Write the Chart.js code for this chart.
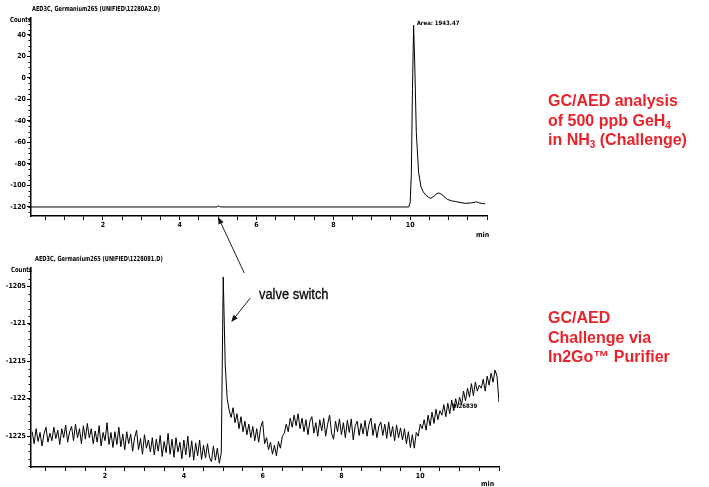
<!DOCTYPE html>
<html>
<head>
<meta charset="utf-8">
<script src="https://cdn.jsdelivr.net/npm/chart.js@4"></script>
<style>
body{margin:0;width:709px;height:487px;background:#fff;position:relative;overflow:hidden;font-family:'Liberation Sans',Arial,sans-serif}
.box{position:absolute;left:0}
.lbl{position:absolute;font-family:'DejaVu Sans Condensed','DejaVu Sans',sans-serif;font-weight:bold;font-size:7px;white-space:nowrap;color:#000;line-height:1;transform-origin:left top}
.red{position:absolute;left:548px;color:#e8232b;font-weight:bold;font-size:16px;line-height:19.5px;white-space:nowrap}
.red sub{font-size:10px;vertical-align:-3px;line-height:0}
#valve{position:absolute;left:259px;top:285px;font-size:15px;white-space:nowrap;transform:scaleX(0.86);transform-origin:left top;color:#000;-webkit-text-stroke:0.3px #000}
#overlay{position:absolute;left:0;top:0;pointer-events:none}
</style>
</head>
<body>
<div class="box" style="top:0;width:500px;height:245px"><canvas id="topChart"></canvas></div>
<div class="box" style="top:250px;width:510px;height:237px"><canvas id="botChart"></canvas></div>
<canvas id="overlay" width="709" height="487"></canvas>

<div class="lbl" style="left:32px;top:6px;transform:scaleX(0.8)">AED3C, Germanium265 (UNIFIED\12280A2.D)</div>
<div class="lbl" style="left:10px;top:17px;transform:scaleX(0.85)">Counts</div>
<div class="lbl" style="left:476px;top:232px">min</div>
<div class="lbl" style="left:35px;top:256px;transform:scaleX(0.8)">AED3C, Germanium265 (UNIFIED\1228081.D)</div>
<div class="lbl" style="left:11px;top:267px;transform:scaleX(0.85)">Counts</div>
<div class="lbl" style="left:481px;top:481px">min</div>

<div id="valve">valve switch</div>

<div class="red" style="top:91px">GC/AED analysis<br>of 500 ppb GeH<sub>4</sub><br>in NH<sub>3</sub> (Challenge)</div>
<div class="red" style="top:308px">GC/AED<br>Challenge via<br>In2Go™ Purifier</div>

<script>
// top run (GeH4 challenge): retention time in min, signal in counts
const topTimes  = [0.13, 4.97, 5.0, 5.04, 5.1, 9.96, 10.0, 10.03, 10.06, 10.09, 10.12, 10.16, 10.22, 10.28, 10.34,
  10.41, 10.48, 10.54, 10.62, 10.68, 10.74, 10.80, 10.86, 10.97, 11.08, 11.19, 11.3, 11.45, 11.6, 11.68, 11.73, 11.8, 11.88, 11.95];
const topCounts = [-120, -120, -118.9, -119.7, -120, -120, -116, -90, -10, 49, 12, -51, -88, -101, -106,
  -109, -111, -112, -110, -108, -107, -107.8, -109.5, -113, -114.3, -115, -115.8, -116.6, -116.2, -115.6, -115.2, -116.3, -116.8, -117];
const topYTicks = [-120, -100, -80, -60, -40, -20, 0, 20, 40];
const topYLabels = ['-120', '-100', '-80', '-60', '-40', '-20', '0', '20', '40'];

// bottom run (through purifier), sampled every 0.05 min from 0.15 min
const botStart = 0.15, botStep = 0.05;
const botCounts = [
  -122.44,-122.60,-122.40,-122.57,-122.45,-122.63,-122.47,-122.38,-122.58,-122.46,
  -122.56,-122.38,-122.53,-122.42,-122.61,-122.40,-122.52,-122.35,-122.58,-122.44,
  -122.37,-122.56,-122.34,-122.52,-122.40,-122.60,-122.36,-122.54,-122.33,-122.52,
  -122.40,-122.60,-122.43,-122.58,-122.36,-122.63,-122.45,-122.56,-122.32,-122.61,
  -122.45,-122.65,-122.44,-122.61,-122.38,-122.64,-122.47,-122.68,-122.44,-122.60,
  -122.47,-122.70,-122.52,-122.42,-122.68,-122.53,-122.74,-122.48,-122.66,-122.55,
  -122.71,-122.52,-122.75,-122.54,-122.70,-122.49,-122.77,-122.57,-122.72,-122.46,
  -122.74,-122.54,-122.78,-122.52,-122.71,-122.58,-122.80,-122.55,-122.75,-122.50,
  -122.78,-122.56,-122.82,-122.59,-122.76,-122.55,-122.81,-122.62,-122.79,-122.60,
  -122.78,-122.84,-122.63,-122.82,-122.66,-122.86,-122.72,
  -120.38,
  -121.55,-122.00,-122.15,-122.25,-122.12,-122.32,-122.20,-122.40,-122.24,-122.44,
  -122.30,-122.48,-122.34,-122.52,-122.37,-122.56,-122.40,-122.58,-122.38,-122.30,
  -122.60,-122.52,-122.68,-122.58,-122.74,-122.62,-122.76,-122.57,-122.66,-122.50,
  -122.46,-122.34,-122.44,-122.26,-122.38,-122.22,-122.36,-122.20,-122.40,-122.26,
  -122.44,-122.28,-122.48,-122.30,-122.24,-122.46,-122.32,-122.50,-122.28,-122.43,
  -122.26,-122.50,-122.34,-122.22,-122.46,-122.54,-122.30,-122.44,-122.27,-122.48,
  -122.32,-122.52,-122.29,-122.45,-122.27,-122.55,-122.36,-122.30,-122.49,-122.33,
  -122.47,-122.29,-122.50,-122.34,-122.26,-122.49,-122.33,-122.52,-122.37,-122.31,
  -122.49,-122.34,-122.53,-122.31,-122.51,-122.37,-122.56,-122.35,-122.52,-122.39,
  -122.55,-122.40,-122.60,-122.44,-122.65,-122.48,-122.66,-122.45,-122.50,-122.34,
  -122.40,-122.28,-122.42,-122.22,-122.36,-122.18,-122.33,-122.14,-122.28,-122.16,
  -122.22,-122.08,-122.24,-122.06,-122.20,-122.02,-122.16,-122.00,-122.12,-121.98,
  -122.08,-121.90,-122.03,-121.86,-121.98,-121.80,-121.96,-121.78,-121.90,-121.82,
  -121.86,-121.74,-121.90,-121.70,-121.82,-121.66,-121.78,-121.62,-121.70,-122.05
];
const botYTicks = [-122.5, -122, -121.5, -121, -120.5];
const botYLabels = ['-1225', '-122', '-1215', '-121', '-1205'];

// time axis, same for both runs
const xTicks = [0.5,1,1.5,2,2.5,3,3.5,4,4.5,5,5.5,6,6.5,7,7.5,8,8.5,9,9.5,10,10.5,11,11.5,12];
const xLabels = {2:'2', 4:'4', 6:'6', 8:'8', 10:'10'};

const valveTime = 5.0;
const topNote = {t: 10.09, v: 49, text: 'Area: 1943.47'};
const botNote = {t: 10.72, v: -122.1, text: '0.26839'};

const tickFont = {family: "'DejaVu Sans Condensed','DejaVu Sans',sans-serif", size: 7, weight: 'bold'};

function labelFrom(vals, labels, v) {
  const i = vals.findIndex(x => Math.abs(x - v) < 1e-6);
  return i < 0 ? '' : labels[i];
}

// small minor ticks + a text note anchored to a data point
const extras = {
  id: 'extras',
  afterDraw(chart, args, o) {
    const ctx = chart.ctx, xs = chart.scales.x, ys = chart.scales.y;
    ctx.save();
    ctx.strokeStyle = '#000';
    ctx.lineWidth = 1;
    ctx.beginPath();
    for (let v = o.minorFrom; v <= ys.max + 1e-9; v += o.minorStep) {
      const y = Math.round(ys.getPixelForValue(v)) + 0.5;
      ctx.moveTo(xs.left - 2.5, y);
      ctx.lineTo(xs.left, y);
    }
    ctx.stroke();
    ctx.font = 'bold 6px "DejaVu Sans Condensed", sans-serif';
    ctx.fillStyle = '#000';
    ctx.textBaseline = 'middle';
    const n = o.note;
    ctx.fillText(n.text, xs.getPixelForValue(n.t) + o.noteDx, ys.getPixelForValue(n.v) + o.noteDy);
    ctx.restore();
  }
};

function makeChart(id, data, xMin, xMax, yMin, yMax, yVals, yLabels, axisH, opt) {
  return new Chart(document.getElementById(id), {
    type: 'line',
    data: {datasets: [{data: data, borderColor: '#000', borderWidth: 1, pointRadius: 0, tension: 0, fill: false}]},
    options: {
      animation: false,
      responsive: true,
      maintainAspectRatio: false,
      parsing: false,
      layout: {padding: {top: 18, right: opt.padRight, left: 0, bottom: 0}},
      plugins: {legend: {display: false}, tooltip: {enabled: false}, extras: opt},
      scales: {
        x: {
          type: 'linear', min: xMin, max: xMax,
          border: {color: '#000', width: 1.5},
          grid: {drawOnChartArea: false, tickLength: 4, tickColor: '#000', tickWidth: 1},
          ticks: {autoSkip: false, maxRotation: 0, padding: 1, font: tickFont, color: '#000',
            callback: v => xLabels[v] || ''},
          afterBuildTicks: s => { s.ticks = xTicks.map(v => ({value: v})); },
          afterFit: s => { s.height = axisH; }
        },
        y: {
          type: 'linear', min: yMin, max: yMax,
          border: {color: '#000', width: 1.5},
          grid: {drawOnChartArea: false, tickLength: 4, tickColor: '#000', tickWidth: 1},
          ticks: {autoSkip: false, padding: 1, font: tickFont, color: '#000',
            callback: v => labelFrom(yVals, yLabels, v)},
          afterBuildTicks: s => { s.ticks = yVals.map(v => ({value: v})); },
          afterFit: s => { s.width = 31; }
        }
      }
    },
    plugins: [extras]
  });
}

const topData = topTimes.map((t, i) => ({x: t, y: topCounts[i]}));
const botData = botCounts.map((v, i) => ({x: botStart + i * botStep, y: v}));

const topChart = makeChart('topChart', topData, 0.13, 12, -128.4, 55.8, topYTicks, topYLabels, 29,
  {padRight: 13, minorFrom: -125, minorStep: 5, note: topNote, noteDx: 3, noteDy: -2});
const botChart = makeChart('botChart', botData, 0.12, 12, -122.91, -120.26, botYTicks, botYLabels, 20,
  {padRight: 11, minorFrom: -122.9, minorStep: 0.1, note: botNote, noteDx: 4, noteDy: 0});

// arrows across both plots, anchored on the valve switch time
function arrow(ctx, x1, y1, x2, y2) {
  const a = Math.atan2(y2 - y1, x2 - x1), L = 7, W = 2.8;
  ctx.beginPath();
  ctx.moveTo(x1, y1);
  ctx.lineTo(x2 - Math.cos(a) * L * 0.8, y2 - Math.sin(a) * L * 0.8);
  ctx.stroke();
  ctx.beginPath();
  ctx.moveTo(x2, y2);
  ctx.lineTo(x2 - Math.cos(a) * L + Math.sin(a) * W, y2 - Math.sin(a) * L - Math.cos(a) * W);
  ctx.lineTo(x2 - Math.cos(a) * L - Math.sin(a) * W, y2 - Math.sin(a) * L + Math.cos(a) * W);
  ctx.closePath();
  ctx.fill();
}
const octx = document.getElementById('overlay').getContext('2d');
octx.strokeStyle = '#222';
octx.fillStyle = '#111';
octx.lineWidth = 1;
const botOff = 250;
const tx = topChart.scales.x, bx = botChart.scales.x, by = botChart.scales.y;
arrow(octx, bx.getPixelForValue(valveTime) + 21, botOff + botChart.chartArea.top + 5,
  tx.getPixelForValue(valveTime), topChart.chartArea.bottom + 1);
arrow(octx, bx.getPixelForValue(valveTime) + 27, botOff + by.getPixelForValue(-120.66),
  bx.getPixelForValue(valveTime) + 8, botOff + by.getPixelForValue(-120.98));
</script>
</body>
</html>
